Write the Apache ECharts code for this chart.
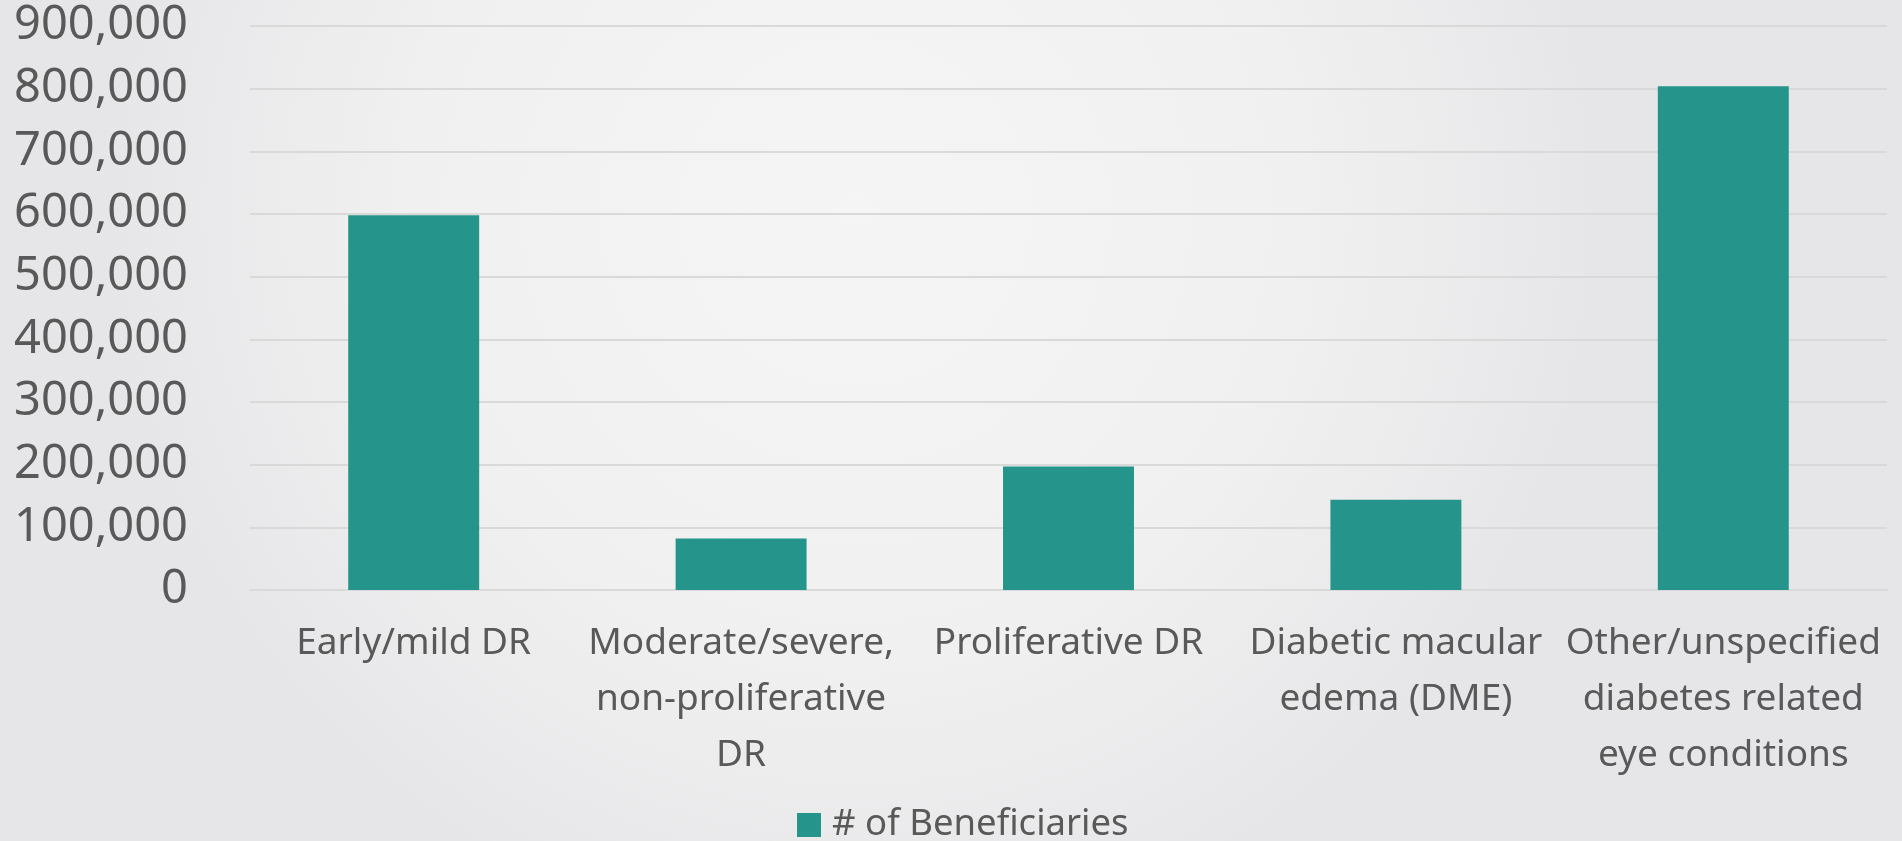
<!DOCTYPE html>
<html>
<head>
<meta charset="utf-8">
<script src="https://cdn.jsdelivr.net/npm/echarts@6/dist/echarts.min.js"></script>
<style>
html,body{margin:0;padding:0;width:1902px;height:841px;overflow:hidden;background:#efeff0;}
#chart{width:1902px;height:841px;}
</style>
</head>
<body>
<div id="chart"></div>
<script>
const categories = [
  "Early/mild DR",
  "Moderate/severe,\nnon-proliferative\nDR",
  "Proliferative DR",
  "Diabetic macular\nedema (DME)",
  "Other/unspecified\ndiabetes related\neye conditions"
];
const seriesName = "# of Beneficiaries";
const beneficiaries = [598000, 82000, 197000, 144000, 804000];
const yMin = 0, yMax = 900000, yInterval = 100000;

const chart = echarts.init(document.getElementById('chart'));
const font = "'Noto Sans', 'Open Sans', sans-serif";
chart.setOption({
  backgroundColor: {
    type: 'radial', x: 0.45, y: 0.25, r: 0.9,
    colorStops: [
      {offset: 0, color: '#f5f5f5'},
      {offset: 0.6, color: '#f0f0f1'},
      {offset: 1, color: '#e6e6e8'}
    ]
  },
  animation: false,
  grid: {left: 250, right: 15, top: 26, bottom: 251, containLabel: false},
  legend: {
    data: [seriesName],
    left: 797, top: 806,
    itemWidth: 24, itemHeight: 24, itemGap: 11,
    icon: 'rect',
    textStyle: {fontFamily: font, fontSize: 36.5, color: '#595959', lineHeight: 38, padding: [0,0,0,6]},
    padding: 0
  },
  xAxis: {
    type: 'category',
    data: categories,
    axisLine: {show: true, lineStyle: {color: '#d9d9d9', width: 2}},
    axisTick: {show: false},
    axisLabel: {
      interval: 0, margin: 25,
      fontFamily: font, fontSize: 37, color: '#595959', lineHeight: 56
    }
  },
  yAxis: {
    type: 'value',
    min: yMin, max: yMax, interval: yInterval,
    axisLine: {show: false},
    axisTick: {show: false},
    splitLine: {lineStyle: {color: '#d9d9d9', width: 2}},
    axisLabel: {
      margin: 62,
      fontFamily: font, fontSize: 47, color: '#595959',
      formatter: v => v.toLocaleString('en-US')
    }
  },
  series: [{
    name: seriesName,
    type: 'bar',
    data: beneficiaries,
    barCategoryGap: '60%',
    itemStyle: {color: '#25948a'}
  }]
});
</script>
</body>
</html>
